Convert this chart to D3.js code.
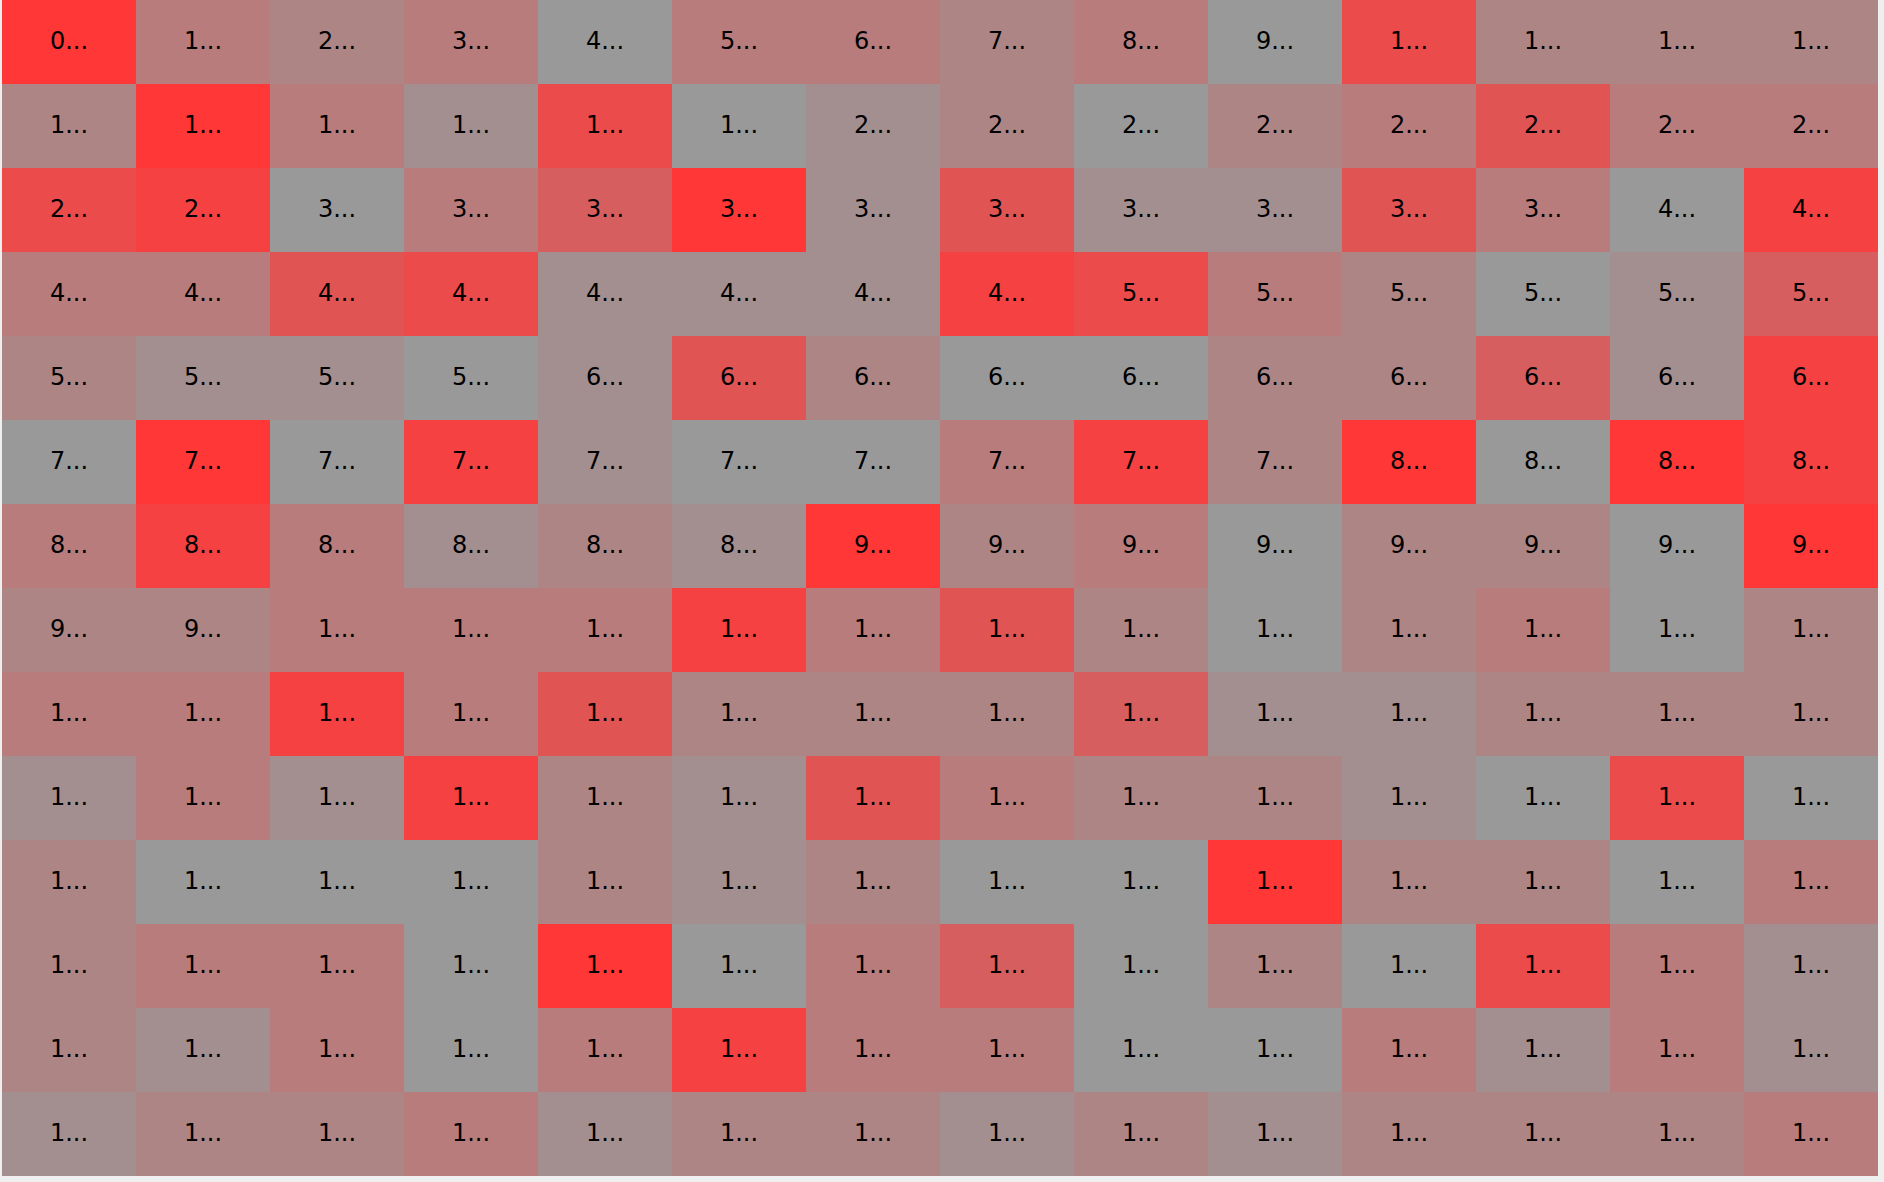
<!DOCTYPE html>
<html lang="en">
<head>
  <meta charset="UTF-8">
  <title>Grid heatmap</title>
  <style>
    body {
      margin: 0;
      padding: 0;
      background: #efefef;
      font-family: "DejaVu Sans", sans-serif;
    }
    svg { display: block; }
    .cell-label {
      font-size: 24px;
      fill: #000;
    }
  </style>
</head>
<body>
  <script src="https://d3js.org/d3.v7.min.js"></script>
  <script>
    // one value per cell (0 = grey, 1 = full red), read row by row
    const cellValues = [
      1.0, 0.3, 0.2, 0.3, 0.0, 0.3, 0.3, 0.2, 0.3, 0.0, 0.8, 0.2, 0.2, 0.2,
      0.2, 1.0, 0.3, 0.1, 0.8, 0.0, 0.1, 0.2, 0.0, 0.2, 0.3, 0.7, 0.3, 0.3,
      0.8, 0.9, 0.0, 0.3, 0.6, 1.0, 0.1, 0.7, 0.1, 0.1, 0.7, 0.3, 0.0, 0.9,
      0.3, 0.3, 0.7, 0.8, 0.1, 0.1, 0.1, 0.9, 0.8, 0.3, 0.2, 0.0, 0.1, 0.6,
      0.2, 0.1, 0.1, 0.0, 0.1, 0.7, 0.2, 0.0, 0.0, 0.2, 0.2, 0.6, 0.1, 0.9,
      0.0, 1.0, 0.0, 0.9, 0.1, 0.0, 0.0, 0.3, 0.9, 0.2, 1.0, 0.0, 1.0, 0.9,
      0.3, 0.9, 0.3, 0.1, 0.2, 0.1, 1.0, 0.2, 0.3, 0.0, 0.2, 0.2, 0.0, 1.0,
      0.2, 0.2, 0.3, 0.3, 0.3, 0.9, 0.3, 0.7, 0.2, 0.0, 0.2, 0.3, 0.0, 0.2,
      0.3, 0.3, 0.9, 0.3, 0.7, 0.2, 0.2, 0.2, 0.6, 0.1, 0.1, 0.2, 0.2, 0.2,
      0.1, 0.3, 0.1, 0.9, 0.2, 0.1, 0.7, 0.3, 0.2, 0.2, 0.1, 0.0, 0.8, 0.0,
      0.2, 0.0, 0.0, 0.0, 0.2, 0.1, 0.2, 0.0, 0.0, 1.0, 0.2, 0.2, 0.0, 0.3,
      0.2, 0.3, 0.3, 0.0, 1.0, 0.0, 0.3, 0.6, 0.0, 0.2, 0.0, 0.8, 0.3, 0.1,
      0.2, 0.1, 0.3, 0.0, 0.3, 0.9, 0.3, 0.3, 0.0, 0.0, 0.3, 0.1, 0.3, 0.1,
      0.1, 0.2, 0.2, 0.3, 0.1, 0.2, 0.2, 0.1, 0.2, 0.1, 0.2, 0.2, 0.2, 0.3
    ];
    const cellLabels = cellValues.map((d, i) => String(i));

    const nCols = 14;
    const nRows = 14;

    const width = 1884;
    const height = 1182;
    const gridW = 1876;
    const gridH = 1176;

    const svg = d3.select('body')
      .append('svg')
      .attr('width', width)
      .attr('height', height);

    const x = d3.scaleBand().domain(d3.range(nCols)).range([0, gridW]);
    const y = d3.scaleBand().domain(d3.range(nRows)).range([0, gridH]);

    const color = d3.scaleLinear()
      .domain([0, 1])
      .range(['#999999', '#ff3737'])
      .interpolate(d3.interpolateRgb);

    // cut the label down to its first character
    const shorten = s => s.length > 1 ? s.slice(0, 1) + '...' : s + '...';

    const g = svg.append('g').attr('transform', 'translate(2,0)');

    const cells = g.selectAll('g.cell')
      .data(cellValues)
      .enter().append('g')
        .attr('class', 'cell')
        .attr('transform', (d, i) => `translate(${x(i % nCols)},${y(Math.floor(i / nCols))})`);

    cells.append('rect')
      .attr('width', x.bandwidth())
      .attr('height', y.bandwidth())
      .attr('fill', d => color(d));

    cells.append('text')
      .attr('class', 'cell-label')
      .attr('x', x.bandwidth() / 2)
      .attr('y', y.bandwidth() / 2)
      .attr('dy', '0.3em')
      .attr('text-anchor', 'middle')
      .text((d, i) => shorten(cellLabels[i]));
  </script>
</body>
</html>
